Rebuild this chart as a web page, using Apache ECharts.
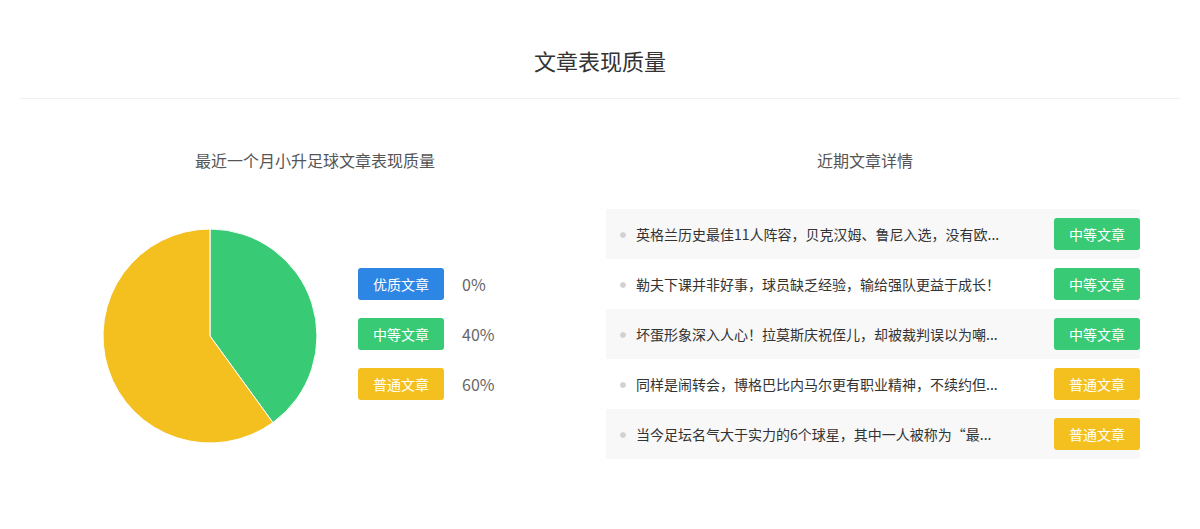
<!DOCTYPE html>
<html><head><meta charset="utf-8">
<script src="https://cdn.jsdelivr.net/npm/echarts@6/dist/echarts.min.js"></script>
<style>html,body{margin:0;padding:0;background:#fff}#c{width:1200px;height:529px}</style>
</head><body><div id="c"></div>
<script>
// ---- data ----
const chartTitle = '文章表现质量';
const pieTitle = '最近一个月小升足球文章表现质量';
const listTitle = '近期文章详情';
const categories = ['优质文章', '中等文章', '普通文章'];
const shareValues = [0, 40, 60];
const articleTitles = [
  '英格兰历史最佳11人阵容，贝克汉姆、鲁尼入选，没有欧...',
  '勒夫下课并非好事，球员缺乏经验，输给强队更益于成长！',
  '坏蛋形象深入人心！拉莫斯庆祝侄儿，却被裁判误以为嘲...',
  '同样是闹转会，博格巴比内马尔更有职业精神，不续约但...',
  '当今足坛名气大于实力的6个球星，其中一人被称为“最...'
];
const articleLevels = ['中等文章', '中等文章', '中等文章', '普通文章', '普通文章'];

// ---- styles ----
const palette = ['#2d86e3', '#38ca74', '#f4c01f'];
const FONT = '"Noto Sans CJK SC", "Microsoft YaHei", sans-serif';

const chart = echarts.init(document.getElementById('c'), null, { renderer: 'svg' });

function txt(x, y, text, size, color, align) {
  return {
    type: 'text', x: x, y: y, silent: true,
    style: {
      text: text, fill: color, font: size + 'px ' + FONT,
      align: align, verticalAlign: 'middle',
      textAlign: align, textVerticalAlign: 'middle'
    }
  };
}

const total = shareValues.reduce((a, b) => a + b, 0);
const graphics = [];
graphics.push(txt(600, 60, chartTitle, 22, '#333', 'center'));
graphics.push({ type: 'line', silent: true, shape: { x1: 20, y1: 98.5, x2: 1180, y2: 98.5 }, style: { stroke: '#f0f0f0', lineWidth: 1 } });
graphics.push(txt(315, 160, pieTitle, 16, '#555', 'center'));
graphics.push(txt(865, 160, listTitle, 16, '#555', 'center'));

// legend
categories.forEach((c, i) => {
  const cy = 284 + i * 50;
  graphics.push({ type: 'rect', silent: true, shape: { x: 358, y: cy - 16, width: 86, height: 32, r: 3 }, style: { fill: palette[i] } });
  graphics.push(txt(401, cy, c, 14, '#fff', 'center'));
  graphics.push(txt(462, cy, Math.round(shareValues[i] / total * 100) + '%', 16, '#666', 'left'));
});

// list
articleTitles.forEach((t, i) => {
  const top = 209 + i * 50;
  const cy = top + 25;
  graphics.push({ type: 'rect', silent: true, shape: { x: 606, y: top, width: 534, height: 50 }, style: { fill: i % 2 === 0 ? '#f8f8f8' : '#ffffff' } });
  graphics.push({ type: 'circle', silent: true, shape: { cx: 623, cy: cy + 1, r: 3 }, style: { fill: '#d2d2d2' } });
  graphics.push(txt(636, cy, t, 14, '#333', 'left'));
  const li = categories.indexOf(articleLevels[i]);
  graphics.push({ type: 'rect', silent: true, shape: { x: 1054, y: cy - 16, width: 86, height: 32, r: 3 }, style: { fill: palette[li] } });
  graphics.push(txt(1097, cy, articleLevels[i], 14, '#fff', 'center'));
});

chart.setOption({
  animation: false,
  graphic: graphics,
  series: [{
    type: 'pie',
    center: [210, 336],
    radius: 107,
    startAngle: 90,
    clockwise: true,
    silent: true,
    label: { show: false },
    labelLine: { show: false },
    itemStyle: { borderColor: '#fff', borderWidth: 1 },
    data: categories.map((c, i) => ({ name: c, value: shareValues[i], itemStyle: { color: palette[i] } }))
  }]
});
</script>
</body></html>
